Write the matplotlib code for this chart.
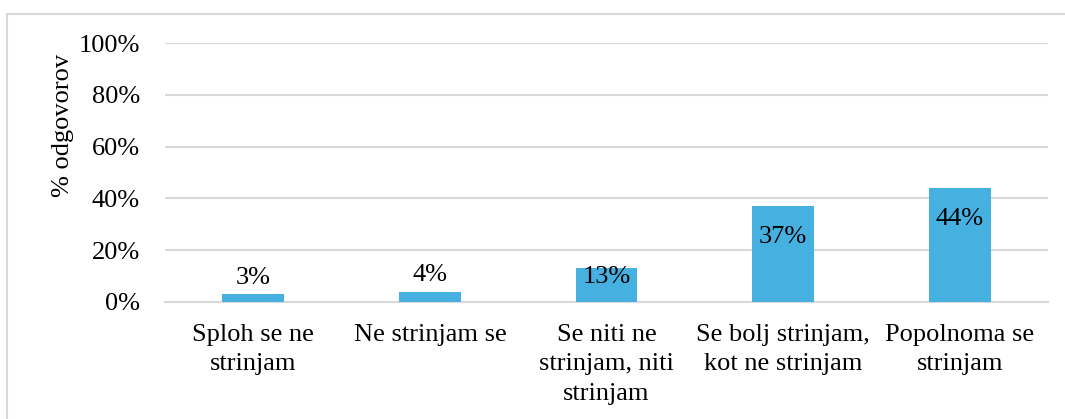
import matplotlib
matplotlib.use("Agg")
import matplotlib.pyplot as plt
from matplotlib.patches import Rectangle
from matplotlib.ticker import FuncFormatter

categories = [
    "Sploh se ne\nstrinjam",
    "Ne strinjam se",
    "Se niti ne\nstrinjam, niti\nstrinjam",
    "Se bolj strinjam,\nkot ne strinjam",
    "Popolnoma se\nstrinjam",
]
values = [3, 4, 13, 37, 44]
y_ticks = [0, 20, 40, 60, 80, 100]
y_title = "% odgovorov"

# label placement per bar: (vertical offset in points, vertical alignment)
label_offsets = [(4, "bottom"), (4, "bottom"), (-6, "center"), (-22.5, "center"), (-22.5, "center")]

plt.rcParams["font.family"] = ["Liberation Serif", "DejaVu Serif"]
FS = 19
BAR = "#46B1E1"
GRID = "#D9D9D9"

fig = plt.figure(figsize=(10.65, 4.19), dpi=100)
W, H = 1065, 419
ax = fig.add_axes([165 / W, 1 - 302 / H, (1048 - 165) / W, (302 - 43) / H])

x = list(range(len(categories)))
ax.bar(x, values, width=0.35, color=BAR, zorder=3)
ax.set_xlim(-0.5, len(categories) - 0.5)
ax.set_ylim(0, 100)

ax.set_yticks(y_ticks)
ax.yaxis.set_major_formatter(FuncFormatter(lambda v, _: f"{v:.0f}%"))
ax.set_xticks(x)
ax.set_xticklabels(categories, fontsize=FS, linespacing=1.42)
ax.tick_params(axis="y", length=0, pad=18, labelsize=FS)
ax.tick_params(axis="x", length=0, pad=16)

ax.grid(axis="y", color=GRID, linewidth=1.5, zorder=0)
for s in ["top", "right", "left"]:
    ax.spines[s].set_visible(False)
ax.spines["bottom"].set_color(GRID)
ax.spines["bottom"].set_linewidth(1.5)

ax.set_ylabel(y_title, fontsize=FS)
ax.yaxis.set_label_coords((74 - 165) / (1048 - 165), (302 - 125) / (302 - 43))

for xi, v, (dy, va) in zip(x, values, label_offsets):
    ax.annotate(f"{v}%", (xi, v), xytext=(0, dy), textcoords="offset points",
                ha="center", va=va, fontsize=FS, zorder=4)

# chart frame (top and left edges visible)
fig.add_artist(Rectangle((7 / W, -0.1), 1.2, 1 - 14 / H + 0.1, transform=fig.transFigure,
                         fill=False, edgecolor=GRID, linewidth=1.5))

fig.savefig("out.png", dpi=100)
